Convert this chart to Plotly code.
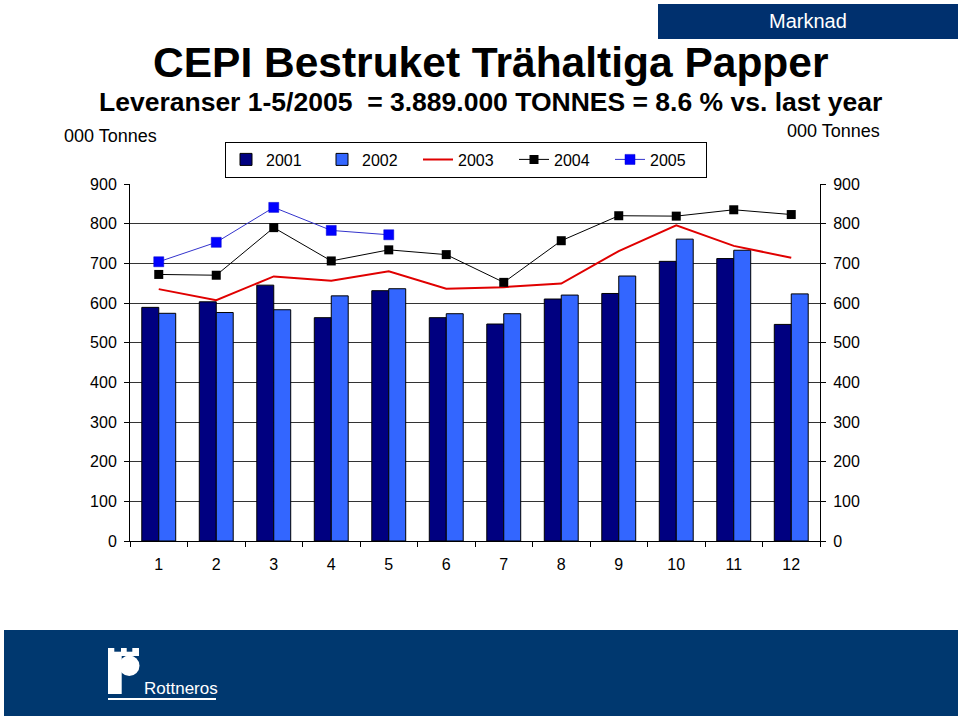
import plotly.graph_objects as go

months = [str(m) for m in range(1, 13)]
v2001 = [589, 603, 645, 563, 631, 563, 547, 610, 624, 705, 712, 546]
v2002 = [574, 576, 583, 618, 636, 573, 573, 620, 668, 761, 733, 623]
v2003 = [635, 607, 667, 656, 680, 636, 640, 649, 731, 796, 744, 714]
v2004 = [672, 670, 790, 706, 734, 722, 652, 757, 820, 819, 835, 823]
v2005 = [704, 753, 841, 783, 772]
yticks = [0, 100, 200, 300, 400, 500, 600, 700, 800, 900]

# plot area in pixels
L, R, T, B = 130, 820, 184, 541
W, H = 960, 720


def px(x):
    return (x - L) / (R - L)


def py(y):
    return (B - y) / (B - T)


FONT = "Liberation Sans, Arial, sans-serif"

fig = go.Figure()
fig.add_trace(go.Bar(x=months, y=v2001, name="2001",
                     marker=dict(color="#000080", line=dict(color="#000000", width=1))))
fig.add_trace(go.Bar(x=months, y=v2002, name="2002",
                     marker=dict(color="#3366FF", line=dict(color="#000000", width=1))))
fig.add_trace(go.Scatter(x=months, y=v2003, name="2003", mode="lines",
                         line=dict(color="#E00000", width=2)))
fig.add_trace(go.Scatter(x=months, y=v2004, name="2004", mode="lines+markers",
                         line=dict(color="#000000", width=1),
                         marker=dict(symbol="square", size=9, color="#000000")))
fig.add_trace(go.Scatter(x=months[:len(v2005)], y=v2005, name="2005", mode="lines+markers",
                         line=dict(color="#3333CC", width=1),
                         marker=dict(symbol="square", size=10, color="#0000FF",
                                     line=dict(color="#0000CC", width=0.5))))
# invisible trace to show right axis
fig.add_trace(go.Scatter(x=months, y=v2001, yaxis="y2", mode="markers",
                         marker=dict(opacity=0), showlegend=False, hoverinfo="skip"))

fig.update_layout(
    width=W, height=H,
    margin=dict(l=L, r=W - R, t=T, b=H - B),
    paper_bgcolor="white", plot_bgcolor="white",
    font=dict(family=FONT, size=16, color="#000000"),
    barmode="group", bargap=0.41, bargroupgap=0,
    showlegend=True,
    legend=dict(orientation="h", x=px(225), y=py(141.5), xanchor="left", yanchor="top",
                bordercolor="#000000", borderwidth=1, bgcolor="white",
                font=dict(size=16), entrywidth=51, itemwidth=30,
                traceorder="normal"),
    xaxis=dict(type="category", range=[-0.5, 11.5], showgrid=False,
               showline=True, linecolor="#000000", linewidth=1,
               ticks="outside", tickson="boundaries", ticklen=5, tickcolor="#000000",
               tickfont=dict(size=16), zeroline=False, ticklabelstandoff=9),
    yaxis=dict(range=[0, 900], tickvals=yticks, showgrid=True, gridcolor="#333333",
               gridwidth=1, showline=True, linecolor="#000000", linewidth=1,
               ticks="outside", ticklen=5, tickcolor="#000000", zeroline=False,
               tickfont=dict(size=16), ticklabelstandoff=4),
    yaxis2=dict(range=[0, 900], tickvals=yticks, overlaying="y", side="right",
                showgrid=False, showline=True, linecolor="#000000", linewidth=1,
                ticks="outside", ticklen=5, tickcolor="#000000", zeroline=False,
                tickfont=dict(size=16), ticklabelstandoff=4),
)

shapes = []
annotations = []
# Marknad box
shapes.append(dict(type="rect", xref="paper", yref="paper", x0=px(658), x1=px(958),
                   y0=py(39), y1=py(4), fillcolor="#00306E", line=dict(width=0), layer="above"))
annotations.append(dict(text="Marknad", x=px(808), y=py(21), xref="paper", yref="paper",
                        showarrow=False, font=dict(color="white", size=20), xanchor="center",
                        yanchor="middle"))
# titles
annotations.append(dict(text="<b>CEPI Bestruket Trähaltiga Papper</b>", x=px(490.5), y=py(62),
                        xref="paper", yref="paper", showarrow=False,
                        font=dict(size=42.5), xanchor="center", yanchor="middle"))
annotations.append(dict(text="<b>Leveranser 1-5/2005  = 3.889.000 TONNES = 8.6 % vs. last year</b>",
                        x=px(490.5), y=py(102), xref="paper", yref="paper", showarrow=False,
                        font=dict(size=26.5), xanchor="center", yanchor="middle"))
annotations.append(dict(text="000 Tonnes", x=px(62), y=py(136), xref="paper", yref="paper",
                        showarrow=False, font=dict(size=18), xanchor="left", yanchor="middle"))
annotations.append(dict(text="000 Tonnes", x=px(882), y=py(131), xref="paper", yref="paper",
                        showarrow=False, font=dict(size=18), xanchor="right", yanchor="middle"))
# bottom banner
shapes.append(dict(type="rect", xref="paper", yref="paper", x0=px(4), x1=px(958),
                   y0=py(716), y1=py(630), fillcolor="#00386F", line=dict(width=0)))
white = "#FFFFFF"
for (x0, x1, y0, y1) in [(108, 114.3, 648, 652), (121, 126.7, 648, 652), (132.3, 139, 648, 652),
                         (108, 139, 651.7, 656), (108, 121.7, 655.7, 694), (108, 216, 698, 700)]:
    shapes.append(dict(type="rect", xref="paper", yref="paper", x0=px(x0), x1=px(x1),
                       y0=py(y1), y1=py(y0), fillcolor=white, line=dict(width=0)))
shapes.append(dict(type="circle", xref="paper", yref="paper", x0=px(119), x1=px(139.5),
                   y0=py(676), y1=py(655.5), fillcolor=white, line=dict(width=0)))
annotations.append(dict(text="Rottneros", x=px(142), y=py(688), xref="paper", yref="paper",
                        showarrow=False, font=dict(size=17, color=white),
                        xanchor="left", yanchor="middle"))

fig.update_layout(shapes=shapes, annotations=annotations)
fig.write_html("out.html", config={"displayModeBar": False},
               post_script="document.body.style.margin='0px';document.body.style.overflow='hidden';")
